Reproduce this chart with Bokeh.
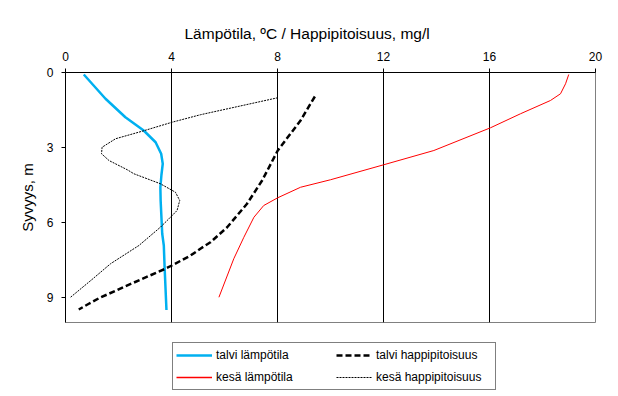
from bokeh.plotting import figure
from bokeh.layouts import column
from bokeh.models import Range1d, LinearAxis, FixedTicker, Legend, LegendItem, Title
from bokeh.embed import file_html
from bokeh.resources import INLINE

# ---- data (value, depth) ----
talvi_lampo_x = [0.69, 1.51, 2.26, 2.95, 3.40, 3.61, 3.67, 3.62, 3.58, 3.59, 3.65, 3.71, 3.74, 3.81]
talvi_lampo_y = [0.08, 1.05, 1.79, 2.32, 2.79, 3.25, 3.65, 4.10, 4.60, 5.12, 6.45, 6.92, 7.79, 9.50]

talvi_happi_x = [9.41, 8.87, 8.01, 7.42, 6.85, 6.10, 5.47, 5.09, 4.72, 4.01, 3.77, 2.26, 1.26, 0.88, 0.50]
talvi_happi_y = [0.96, 1.92, 3.12, 4.32, 5.25, 6.19, 6.79, 7.05, 7.32, 7.72, 7.85, 8.55, 9.03, 9.25, 9.48]

kesa_lampo_x = [18.99, 18.87, 18.68, 18.30, 17.17, 16.04, 13.9, 12.01, 10.0, 8.87, 8.01, 7.48, 7.11, 6.73, 6.35, 5.79]
kesa_lampo_y = [0.08, 0.45, 0.85, 1.12, 1.65, 2.21, 3.12, 3.69, 4.29, 4.59, 5.01, 5.32, 5.79, 6.59, 7.45, 8.99]

kesa_happi_x = [8.01, 5.09, 4.02, 2.89, 1.89, 1.38, 1.36, 1.64, 2.33, 2.58, 3.58, 4.15, 4.31, 4.21, 3.96, 3.58, 2.77, 1.70, 1.0, 0.19]
kesa_happi_y = [1.01, 1.69, 1.99, 2.35, 2.65, 2.99, 3.25, 3.52, 3.89, 4.05, 4.45, 4.79, 5.12, 5.52, 5.79, 6.19, 6.92, 7.65, 8.28, 8.99]

series_labels = ["talvi lämpötila", "kesä lämpötila", "talvi happipitoisuus", "kesä happipitoisuus"]

x_ticks = [0, 4, 8, 12, 16, 20]
grid_ticks = [4, 8, 12, 16]
y_ticks = [0, 3, 6, 9]

FONT = "Liberation Sans"

STYLES = [
    dict(line_color="#00B0F0", line_width=2.5),
    dict(line_color="#FF0000", line_width=1),
    dict(line_color="black", line_width=2.5, line_dash="6 3"),
    dict(line_color="black", line_width=1, line_dash="2 1"),
]
LEGEND_STYLES = [
    dict(line_color="#00B0F0", line_width=2.5),
    dict(line_color="#FF0000", line_width=1.6),
    dict(line_color="black", line_width=2.5, line_dash="6 3"),
    dict(line_color="black", line_width=1, line_dash="2 1"),
]

p = figure(width=610, height=330, output_backend="svg", toolbar_location=None,
           x_range=Range1d(0, 20), y_range=Range1d(10, 0),
           x_axis_location=None, y_axis_location=None,
           min_border_left=65, min_border_right=15, min_border_top=72, min_border_bottom=8)

p.background_fill_color = "white"
p.border_fill_color = "white"
p.outline_line_color = "#808080"
p.outline_line_width = 1

xa = LinearAxis(ticker=FixedTicker(ticks=x_ticks))
xa.axis_line_color = "black"
xa.major_tick_line_color = "black"
xa.major_tick_out = 4
xa.major_tick_in = 0
xa.minor_tick_line_color = None
xa.major_label_text_font = FONT
xa.major_label_text_font_size = "12px"
xa.major_label_text_color = "black"
xa.major_label_standoff = 8
p.add_layout(xa, "above")

top_title = Title(text="Lämpötila, ºC / Happipitoisuus, mg/l", align="left", offset=119,
                  text_font=FONT, text_font_size="15.5px", text_font_style="normal",
                  text_color="black", standoff=13)
p.add_layout(top_title, "above")

ya = LinearAxis(ticker=FixedTicker(ticks=y_ticks), axis_label="Syvyys, m")
ya.axis_line_color = "black"
ya.major_tick_line_color = "black"
ya.major_tick_out = 4
ya.major_tick_in = 0
ya.minor_tick_line_color = None
ya.major_label_text_font = FONT
ya.major_label_text_font_size = "12px"
ya.major_label_text_color = "black"
ya.major_label_standoff = 8
ya.axis_label_text_font = FONT
ya.axis_label_text_font_size = "15px"
ya.axis_label_text_font_style = "normal"
ya.axis_label_text_color = "black"
ya.axis_label_standoff = 8
p.add_layout(ya, "left")

p.xgrid.ticker = FixedTicker(ticks=grid_ticks)
p.xgrid.grid_line_color = "black"
p.xgrid.grid_line_width = 1
p.ygrid.grid_line_color = None

p.line(talvi_lampo_x, talvi_lampo_y, **STYLES[0])
p.line(kesa_lampo_x, kesa_lampo_y, **STYLES[1])
p.line(talvi_happi_x, talvi_happi_y, **STYLES[2])
p.line(kesa_happi_x, kesa_happi_y, **STYLES[3])

# legend panel below the chart (legend samples only, no visible data)
lf = figure(width=610, height=62, output_backend="svg", toolbar_location=None,
            x_range=Range1d(0, 1), y_range=Range1d(0, 1),
            x_axis_location=None, y_axis_location=None,
            min_border_left=0, min_border_right=0, min_border_top=0, min_border_bottom=0)
lf.outline_line_color = None
lf.xgrid.visible = False
lf.ygrid.visible = False
nan = float("nan")
leg_renderers = [lf.line(x=[nan, nan], y=[nan, nan], **s) for s in LEGEND_STYLES]

legend = Legend(items=[LegendItem(label=lab, renderers=[r])
                       for lab, r in zip(series_labels, leg_renderers)],
                ncols=2, location=(107, 2))
legend.border_line_color = "black"
legend.border_line_width = 1
legend.background_fill_alpha = 1
legend.label_text_font = FONT
legend.label_text_font_size = "12px"
legend.label_text_color = "black"
legend.glyph_width = 36
legend.glyph_height = 18
legend.label_height = 18
legend.label_width = 116
legend.label_standoff = 4
legend.spacing = 4
legend.padding = 3
legend.margin = 0
lf.add_layout(legend, "center")

layout = column(p, lf, spacing=0)
open("out.html", "w").write(file_html(layout, INLINE))
